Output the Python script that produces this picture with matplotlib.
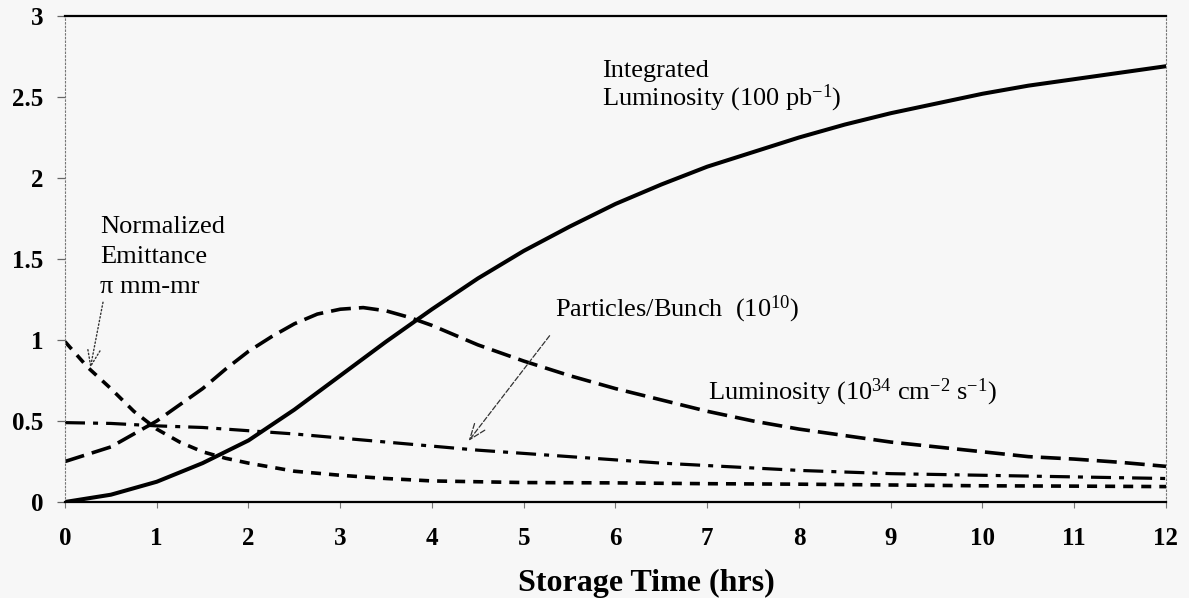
import matplotlib
matplotlib.use('Agg')
import matplotlib.pyplot as plt

# ---------------- data ----------------
hours = [0, 0.5, 1.0, 1.5, 2.0, 2.5, 3.0, 3.5, 4.0, 4.5, 5.0, 5.5, 6.0,
         6.5, 7.0, 7.5, 8.0, 8.5, 9.0, 9.5, 10.0, 10.5, 11.0, 11.5, 12.0]
integrated = [0.0, 0.045, 0.125, 0.24, 0.38, 0.57, 0.78, 0.99, 1.19, 1.38,
              1.55, 1.70, 1.84, 1.96, 2.07, 2.16, 2.25, 2.33, 2.40, 2.46,
              2.52, 2.57, 2.61, 2.65, 2.69]
particles = [0.49, 0.485, 0.47, 0.46, 0.44, 0.42, 0.395, 0.37, 0.345, 0.32,
             0.30, 0.28, 0.26, 0.24, 0.225, 0.21, 0.195, 0.185, 0.175, 0.17,
             0.165, 0.16, 0.155, 0.15, 0.145]
lum_hours = [0, 0.5, 1.0, 1.5, 1.75, 2.0, 2.25, 2.5, 2.75, 3.0, 3.25, 3.5,
             3.75, 4.0, 4.25, 4.5, 5.0, 5.5, 6.0, 6.5, 7.0, 7.5, 8.0, 8.5,
             9.0, 9.5, 10.0, 10.5, 11.0, 11.5, 12.0]
luminosity = [0.25, 0.34, 0.50, 0.70, 0.82, 0.93, 1.02, 1.10, 1.16, 1.19,
              1.20, 1.18, 1.14, 1.09, 1.03, 0.97, 0.87, 0.78, 0.70, 0.63,
              0.56, 0.50, 0.45, 0.41, 0.37, 0.34, 0.31, 0.28, 0.265, 0.245,
              0.22]
emit_hours = [0, 0.25, 0.5, 0.75, 1.0, 1.25, 1.5, 1.75, 2.0, 2.5, 3.0, 3.5,
              4.0, 5.0, 6.0, 7.0, 8.0, 9.0, 10.0, 11.0, 12.0]
emittance = [0.99, 0.83, 0.70, 0.56, 0.45, 0.37, 0.31, 0.27, 0.24, 0.19,
             0.165, 0.145, 0.13, 0.12, 0.118, 0.113, 0.11, 0.105, 0.10,
             0.098, 0.095]

x_ticks = list(range(13))
y_ticks = [0, 0.5, 1, 1.5, 2, 2.5, 3]
y_tick_labels = ['0', '0.5', '1', '1.5', '2', '2.5', '3']
x_label = 'Storage Time (hrs)'

# ---------------- style ----------------
plt.rcParams['font.family'] = ['Liberation Serif', 'DejaVu Serif']
plt.rcParams['mathtext.fontset'] = 'custom'
plt.rcParams['mathtext.rm'] = 'Liberation Serif'
plt.rcParams['mathtext.it'] = 'Liberation Serif:italic'
plt.rcParams['mathtext.bf'] = 'Liberation Serif:bold'
plt.rcParams['lines.scale_dashes'] = False

W, H = 1189, 598
fig = plt.figure(figsize=(W / 100, H / 100), dpi=100, facecolor='#f7f7f7')
L, R, T, B = 65, 1166, 16, 502
ax = fig.add_axes([L / W, 1 - B / H, (R - L) / W, (B - T) / H])
ax.set_facecolor('#f7f7f7')

ax.plot(hours, integrated, color='black', lw=2.9, solid_capstyle='round',
        solid_joinstyle='round')
ax.plot(lum_hours, luminosity, color='black', lw=2.6, dashes=(14.4, 5.8))
ax.plot(hours, particles, color='black', lw=2.3, dashes=(14.4, 5.8, 3.6, 5.8))
ax.plot(emit_hours, emittance, color='black', lw=2.6, dashes=(7.2, 5.8))

ax.set_xlim(0, 12)
ax.set_ylim(0, 3)
ax.set_xticks(x_ticks)
ax.set_xticklabels([str(v) for v in x_ticks])
ax.set_yticks(y_ticks)
ax.set_yticklabels(y_tick_labels)
for lab in ax.get_xticklabels() + ax.get_yticklabels():
    lab.set_fontweight('bold')
    lab.set_fontsize(18)
ax.tick_params(axis='x', direction='out', length=4, width=0.8, color='#777777', pad=14)
ax.tick_params(axis='y', direction='out', length=5.8, width=0.9, color='#666666', pad=10)

for s in ('top', 'bottom'):
    ax.spines[s].set_color('black')
    ax.spines[s].set_linewidth(1.6)
for s in ('left', 'right'):
    ax.spines[s].set_color('#777777')
    ax.spines[s].set_linewidth(0.8)
    ax.spines[s].set_linestyle(':')

fig.text(646 / W, 1 - 583 / H, x_label, ha='center', va='center',
         fontsize=23, fontweight='bold')

fs = 19
ax.text(5.85, 2.66, 'Integrated', fontsize=fs, va='center')
ax.text(5.85, 2.49, r'Luminosity (100 pb$^{-1}$)', fontsize=fs, va='center')
ax.text(0.38, 1.695, 'Normalized', fontsize=fs, va='center')
ax.text(0.38, 1.51, 'Emittance', fontsize=fs, va='center')
ax.text(0.38, 1.33, 'π mm-mr', fontsize=fs, va='center')
ax.text(5.34, 1.187, r'Particles/Bunch  (10$^{10}$)', fontsize=fs, va='center')
ax.text(7.01, 0.68, r'Luminosity (10$^{34}$ cm$^{-2}$ s$^{-1}$)', fontsize=fs, va='center')

ax.annotate('', xy=(0.27, 0.81), xytext=(0.42, 1.25),
            arrowprops=dict(arrowstyle='->,head_length=1.2,head_width=0.45',
                            color='#333333', lw=1.0, linestyle=':'))
ax.annotate('', xy=(4.38, 0.363), xytext=(5.30, 1.04),
            arrowprops=dict(arrowstyle='->,head_length=1.2,head_width=0.45',
                            color='#333333', lw=0.9, linestyle='--'))

fig.savefig('out.png', dpi=100, facecolor=fig.get_facecolor())
